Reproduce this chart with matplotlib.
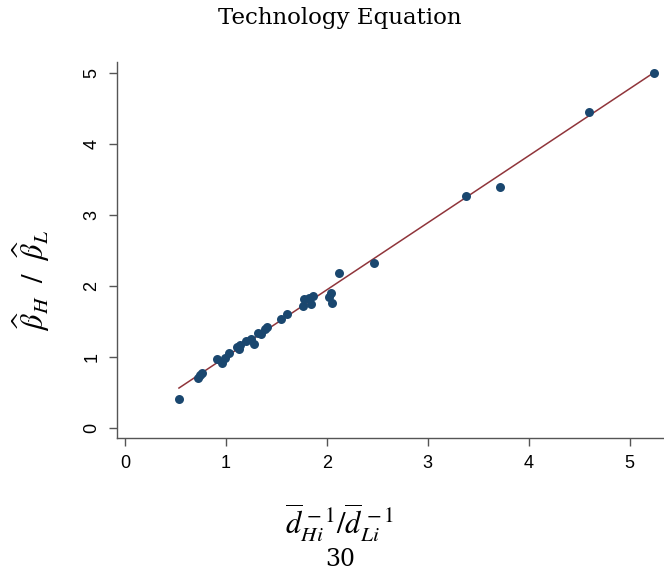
import matplotlib
matplotlib.use("Agg")
import matplotlib.pyplot as plt

# ratio of inverse mean distances (x) vs ratio of estimated betas (y)
x = [0.54, 0.72, 0.74, 0.76, 0.91, 0.96, 0.99, 1.03, 1.11, 1.13, 1.14, 1.20,
     1.25, 1.28, 1.32, 1.35, 1.39, 1.41, 1.55, 1.61, 1.76, 1.77, 1.82, 1.84,
     1.86, 2.02, 2.04, 2.05, 2.12, 2.47, 3.38, 3.72, 4.60, 5.24]
y = [0.41, 0.71, 0.74, 0.77, 0.97, 0.91, 0.98, 1.06, 1.14, 1.11, 1.17, 1.22,
     1.26, 1.19, 1.34, 1.33, 1.39, 1.43, 1.53, 1.61, 1.72, 1.82, 1.83, 1.75,
     1.86, 1.85, 1.90, 1.76, 2.19, 2.33, 3.27, 3.40, 4.45, 5.01]

# fitted line
fit_x = [0.535, 5.24]
fit_a = 0.057
fit_b = 0.945
fit_y = [fit_a + fit_b * v for v in fit_x]

xticks = [0, 1, 2, 3, 4, 5]
yticks = [0, 1, 2, 3, 4, 5]

plt.rcParams['mathtext.fontset'] = 'stix'

fig = plt.figure(figsize=(6.64, 5.71), dpi=100, facecolor='w')
ax = fig.add_axes([0.176, 0.233, 0.824, 0.658])

ax.plot(fit_x, fit_y, color='#90353b', lw=1.1, zorder=2)
ax.scatter(x, y, s=42, color='#1a476f', zorder=3, linewidths=0)

ax.set_xlim(-0.08, 5.34)
ax.set_ylim(-0.141, 5.155)
ax.set_xticks(xticks)
ax.set_yticks(yticks)
ax.spines['top'].set_visible(False)
ax.spines['right'].set_visible(False)
for s in ['left', 'bottom']:
    ax.spines[s].set_color('#555555')
    ax.spines[s].set_linewidth(1.0)
ax.tick_params(direction='out', length=6, width=1.0, color='#555555',
               labelsize=13, pad=6)
for lab in ax.get_xticklabels() + ax.get_yticklabels():
    lab.set_fontfamily('Liberation Sans')
for lab in ax.get_yticklabels():
    lab.set_rotation(90)
    lab.set_va('center')

fig.text(0.512, 0.968, "Technology Equation", ha='center', va='center',
         fontsize=16.5, family='DejaVu Serif')
fig.text(0.047, 0.51, r"$\widehat{\beta}_H\ \ /\ \ \widehat{\beta}_L$",
         rotation=90, ha='center', va='center', fontsize=22)
fig.text(0.512, 0.085, r"$\overline{d}_{Hi}^{\,-1}/\overline{d}_{Li}^{\,-1}$",
         ha='center', va='center', fontsize=22)
fig.text(0.512, 0.02, "30", ha='center', va='center', fontsize=17,
         family='DejaVu Serif')

fig.savefig("out.png", dpi=100)
